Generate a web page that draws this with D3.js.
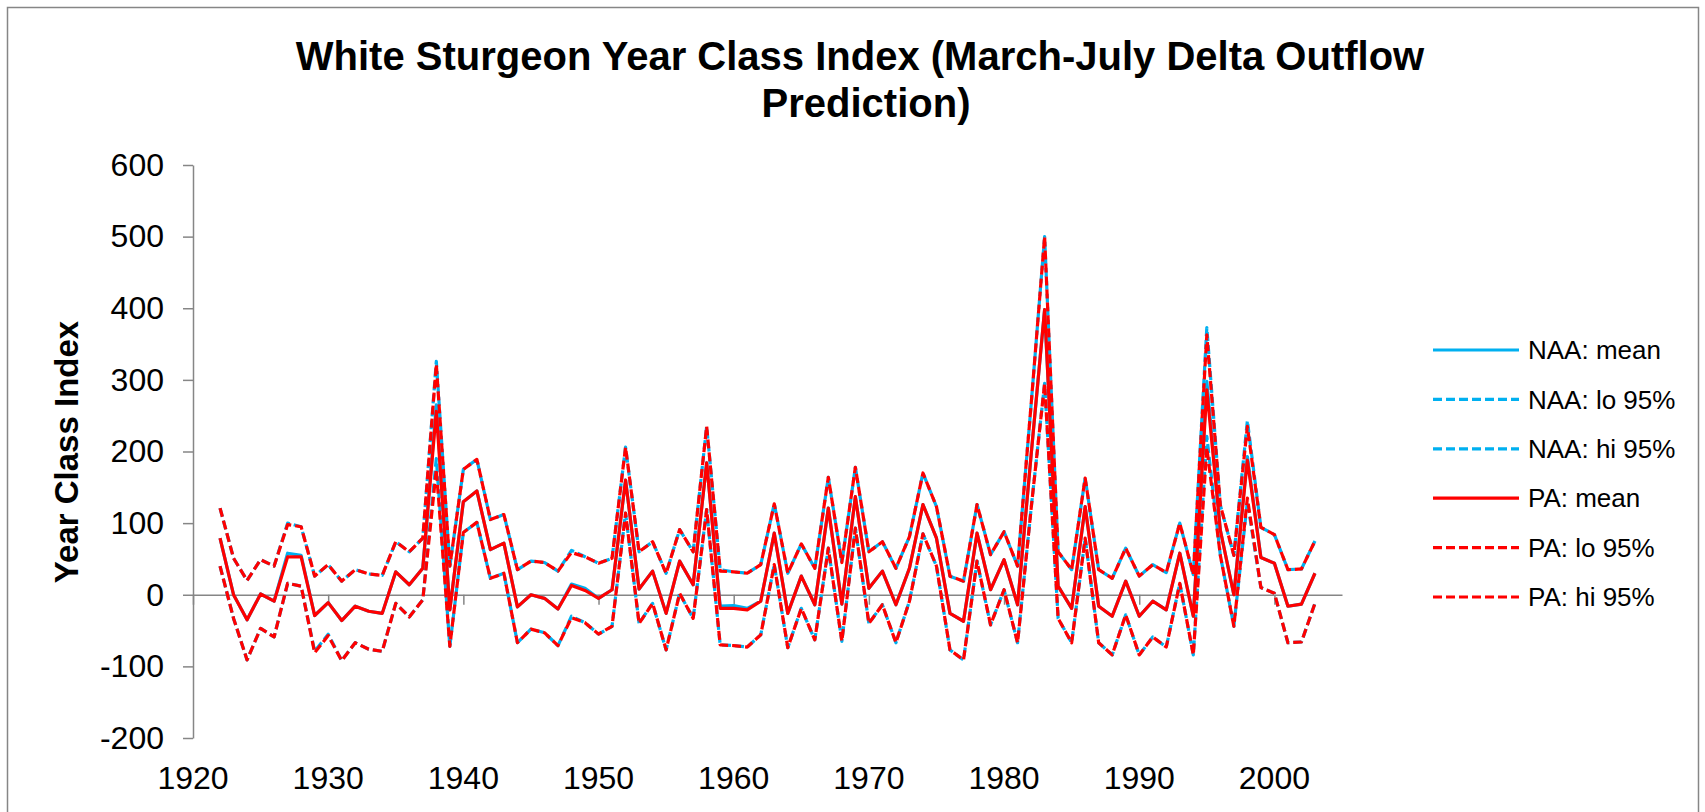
<!DOCTYPE html>
<html>
<head>
<meta charset="utf-8">
<script src="https://cdn.jsdelivr.net/npm/d3@7"></script>
<style>
  body { margin: 0; background: #fff; }
  text { font-family: "Liberation Sans", Arial, sans-serif; fill: #000; }
</style>
</head>
<body>
<div id="wrapper"></div>
<script>
const years = [1922,1923,1924,1925,1926,1927,1928,1929,1930,1931,
  1932,1933,1934,1935,1936,1937,1938,1939,1940,1941,
  1942,1943,1944,1945,1946,1947,1948,1949,1950,1951,
  1952,1953,1954,1955,1956,1957,1958,1959,1960,1961,
  1962,1963,1964,1965,1966,1967,1968,1969,1970,1971,
  1972,1973,1974,1975,1976,1977,1978,1979,1980,1981,
  1982,1983,1984,1985,1986,1987,1988,1989,1990,1991,
  1992,1993,1994,1995,1996,1997,1998,1999,2000,2001,
  2002,2003];

const paMean = [79,0,-35,1,-9,53,53,-29,-11,-36,
  -16,-23,-26,32,14,37,256,-21,130,145,
  63,72,-17,0,-5,-20,13,6,-5,7,
  160,8,33,-26,47,14,184,-19,-19,-21,
  -9,86,-26,26,-14,121,-13,137,9,33,
  -14,37,126,79,-26,-37,86,7,49,-14,
  195,398,12,-19,123,-16,-30,19,-30,-9,
  -21,58,-30,286,90,0,188,52,44,-16,
  -13,30];
const paLo = [40,-33,-91,-47,-59,16,12,-81,-57,-92,
  -67,-76,-79,-12,-31,-7,175,-72,87,101,
  23,30,-67,-48,-53,-71,-32,-39,-55,-44,
  114,-40,-12,-77,2,-33,119,-70,-71,-73,
  -56,42,-74,-19,-63,65,-65,93,-40,-14,
  -67,-9,85,40,-77,-91,47,-42,7,-67,
  120,295,-33,-67,79,-67,-84,-28,-84,-59,
  -73,16,-84,205,55,-44,135,10,2,-67,
  -66,-12];
const paHi = [121,51,20,49,40,98,95,26,42,19,
  35,29,27,74,60,79,322,40,175,189,
  105,112,35,47,45,33,59,53,44,51,
  206,60,74,30,91,60,235,33,32,30,
  42,127,30,71,37,164,45,178,60,74,
  37,81,170,123,26,19,126,56,88,40,
  265,500,60,35,163,35,23,65,26,42,
  31,100,28,363,125,55,235,94,84,35,
  36,75];

const naaMean = [79,0,-35,1,-9,58,55,-29,-11,-36,
  -16,-23,-26,32,14,37,265,-21,130,145,
  63,72,-17,0,-5,-20,15,9,-5,7,
  160,8,33,-26,47,14,184,-16,-15,-19,
  -9,86,-26,26,-14,121,-13,137,9,33,
  -14,37,126,79,-26,-37,86,7,49,-14,
  195,398,12,-19,123,-16,-30,19,-30,-9,
  -21,58,-30,298,90,0,193,52,44,-16,
  -13,30];
const naaLo = [40,-33,-91,-47,-59,16,12,-79,-55,-92,
  -67,-76,-79,-12,-31,-7,190,-72,87,101,
  23,30,-67,-48,-53,-71,-30,-39,-55,-44,
  114,-40,-12,-77,2,-33,119,-70,-71,-73,
  -56,42,-74,-19,-63,65,-65,93,-40,-14,
  -67,-9,85,40,-77,-91,47,-42,7,-67,
  120,295,-33,-67,79,-67,-84,-28,-84,-59,
  -73,16,-84,221,55,-44,130,10,2,-67,
  -66,-12];
const naaHi = [121,51,20,49,40,100,95,26,42,19,
  35,29,27,74,60,79,326,40,175,189,
  105,112,35,47,45,33,62,53,44,51,
  206,60,74,30,91,60,235,35,32,30,
  42,127,30,71,37,164,45,178,60,74,
  37,81,170,123,26,19,126,56,88,40,
  265,500,60,35,163,35,23,65,26,42,
  31,100,28,373,125,55,243,94,84,35,
  36,75];

const xTicks = [1920,1930,1940,1950,1960,1970,1980,1990,2000];
const yTicks = [-200,-100,0,100,200,300,400,500,600];

const blue = "#00B0F0";
const red = "#FF0000";
const series = [
  { name: "NAA: mean", values: naaMean, color: blue, dash: null },
  { name: "NAA: lo 95%", values: naaLo, color: blue, dash: "9,4" },
  { name: "NAA: hi 95%", values: naaHi, color: blue, dash: "9,4" },
  { name: "PA: mean", values: paMean, color: red, dash: null },
  { name: "PA: lo 95%", values: paLo, color: red, dash: "9,4" },
  { name: "PA: hi 95%", values: paHi, color: red, dash: "9,4" }
];

const dimension = {
  width: 1705,
  height: 812,
  left: 193,
  right: 1342,
  top: 165,
  bottom: 738
};

const svg = d3.select("#wrapper").append("svg")
  .attr("width", dimension.width)
  .attr("height", dimension.height);

// chart border
svg.append("rect")
  .attr("x", 7.5).attr("y", 7.5)
  .attr("width", 1691).attr("height", 820)
  .attr("fill", "none").attr("stroke", "#868686").attr("stroke-width", 1.5);

const xScaler = d3.scaleLinear().domain([1920, 2005]).range([dimension.left, dimension.right]);
const yScaler = d3.scaleLinear().domain([-200, 600]).range([dimension.bottom, dimension.top]);

// y axis (plain hyphen for negatives, like the original)
const yAxis = svg.append("g")
  .attr("transform", `translate(${dimension.left},0)`)
  .call(d3.axisLeft(yScaler).tickValues(yTicks).tickSize(10).tickPadding(19).tickSizeOuter(0)
    .tickFormat(d => String(d)));
yAxis.select(".domain").attr("stroke", "#868686").attr("stroke-width", 1.5);
yAxis.selectAll(".tick line").attr("stroke", "#868686").attr("stroke-width", 1.5);
yAxis.selectAll("text").style("font-size", "32px").attr("fill", "#000");

// x axis across zero, labels at the bottom
const xAxis = svg.append("g")
  .attr("transform", `translate(0,${yScaler(0)})`)
  .call(d3.axisBottom(xScaler).tickValues(xTicks).tickSize(10).tickSizeOuter(0).tickFormat(""));
xAxis.select(".domain").attr("stroke", "#868686").attr("stroke-width", 1.5);
xAxis.selectAll(".tick line").attr("stroke", "#868686").attr("stroke-width", 1.5);

svg.append("g").selectAll("text")
  .data(xTicks)
  .join("text")
  .attr("x", d => xScaler(d))
  .attr("y", 789)
  .attr("text-anchor", "middle")
  .style("font-size", "32px")
  .text(d => d);

// lines
const lineGenerator = d3.line()
  .x((d, i) => xScaler(years[i]))
  .y(d => yScaler(d));

svg.append("g").selectAll("path")
  .data(series)
  .join("path")
  .attr("d", d => lineGenerator(d.values))
  .attr("fill", "none")
  .attr("stroke", d => d.color)
  .attr("stroke-width", 3.2)
  .attr("stroke-linejoin", "round")
  .attr("stroke-dasharray", d => d.dash);

// titles
const title = svg.append("text")
  .attr("text-anchor", "middle")
  .style("font-size", "40px")
  .style("font-weight", "bold");
title.append("tspan").attr("x", 860).attr("y", 70).text("White Sturgeon Year Class Index (March-July Delta Outflow");
title.append("tspan").attr("x", 866).attr("y", 117).text("Prediction)");

svg.append("text")
  .attr("transform", "translate(78,452) rotate(-90)")
  .attr("text-anchor", "middle")
  .style("font-size", "33px")
  .style("font-weight", "bold")
  .text("Year Class Index");

// legend
const legend = svg.append("g").selectAll("g")
  .data(series)
  .join("g")
  .attr("transform", (d, i) => `translate(1433,${350 + i * 49.4})`);
legend.append("line")
  .attr("x1", 0).attr("x2", 86)
  .attr("stroke", d => d.color)
  .attr("stroke-width", 3.2)
  .attr("stroke-dasharray", d => d.dash);
legend.append("text")
  .attr("x", 95)
  .attr("dy", "0.35em")
  .style("font-size", "26px")
  .text(d => d.name);
</script>
</body>
</html>
